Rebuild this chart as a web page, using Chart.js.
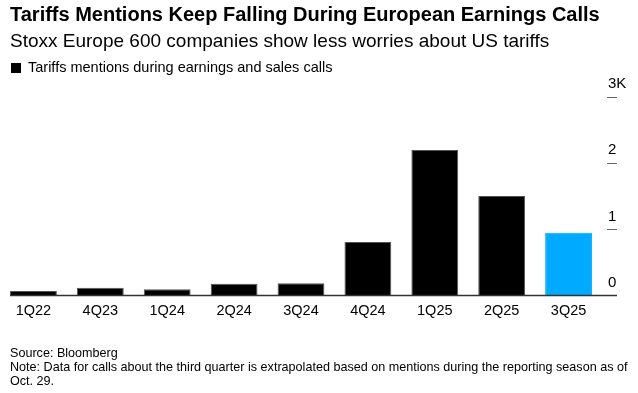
<!DOCTYPE html>
<html>
<head>
<meta charset="utf-8">
<script src="https://cdn.jsdelivr.net/npm/chart.js@4/dist/chart.umd.min.js"></script>
<style>
  html, body { margin: 0; padding: 0; background: #fff; }
  body { width: 638px; height: 393px; position: relative; overflow: hidden; font-family: "Liberation Sans", Arial, sans-serif; color: #000; }
  #c { position: absolute; left: 0; top: 0; }
  .t { position: absolute; left: 10px; white-space: nowrap; line-height: normal; z-index: 2; }
  #title { top: 3px; font-size: 20px; font-weight: bold; }
  #sub { top: 29.5px; font-size: 19px; }
  #leg { top: 59px; left: 28px; font-size: 14.5px; }
  #sq { position: absolute; left: 11px; top: 63px; width: 10px; height: 10px; background: #000; z-index: 2; }
  #foot { top: 345.5px; font-size: 12.6px; line-height: 14.3px; }
</style>
</head>
<body>
<canvas id="c" width="638" height="393"></canvas>
<div class="t" id="title">Tariffs Mentions Keep Falling During European Earnings Calls</div>
<div class="t" id="sub">Stoxx Europe 600 companies show less worries about US tariffs</div>
<div id="sq"></div>
<div class="t" id="leg">Tariffs mentions during earnings and sales calls</div>
<div class="t" id="foot">Source: Bloomberg<br>Note: Data for calls about the third quarter is extrapolated based on mentions during the reporting season as of<br>Oct. 29.</div>
<script>
const categories = ['1Q22', '4Q23', '1Q24', '2Q24', '3Q24', '4Q24', '1Q25', '2Q25', '3Q25'];
const mentions = [70, 120, 95, 180, 185, 810, 2200, 1505, 950];
const yTickValues = [0, 1000, 2000, 3000];
const yTickLabels = ['0', '1', '2', '3K'];
const highlightIndex = 8;

const barColors = categories.map((c, i) => i === highlightIndex ? '#00aaff' : '#000000');
const barBorders = categories.map((c, i) => i === highlightIndex ? '#00aaff' : '#555555');

const baselinePlugin = {
  id: 'baseline',
  afterDatasetsDraw(chart) {
    const ctx = chart.ctx;
    const y = chart.scales.y.getPixelForValue(0);
    const bar = chart.getDatasetMeta(0).data[0];
    const x0 = bar.x - bar.width / 2;
    const x1 = chart.chartArea.right + 15;
    ctx.save();
    ctx.strokeStyle = '#333';
    ctx.lineWidth = 1.5;
    ctx.beginPath();
    ctx.moveTo(x0, y);
    ctx.lineTo(x1, y);
    ctx.stroke();
    ctx.restore();
  }
};

new Chart(document.getElementById('c'), {
  type: 'bar',
  data: {
    labels: categories,
    datasets: [{
      data: mentions,
      backgroundColor: barColors,
      borderColor: barBorders,
      borderWidth: 1,
      borderSkipped: 'bottom',
      categoryPercentage: 1,
      barPercentage: 0.7
    }]
  },
  options: {
    responsive: false,
    animation: false,
    events: [],
    layout: { padding: { left: 0, right: 0, top: 97, bottom: 74 } },
    plugins: { legend: { display: false }, tooltip: { enabled: false } },
    scales: {
      x: {
        offset: true,
        grid: { display: false },
        border: { display: false },
        ticks: { color: '#000', font: { family: 'Liberation Sans', size: 14.5 }, padding: -1, maxRotation: 0 }
      },
      y: {
        position: 'right',
        min: 0,
        max: 3000,
        afterFit(scale) { scale.width = 36; },
        afterBuildTicks(scale) { scale.ticks = yTickValues.map(v => ({ value: v })); },
        border: { display: false },
        grid: {
          drawOnChartArea: false,
          drawTicks: true,
          tickLength: 15,
          tickColor: '#666',
          tickWidth: 1,
          tickBorderDash: [10, 5],
          tickBorderDashOffset: 10
        },
        ticks: {
          color: '#000',
          font: { family: 'Liberation Sans', size: 15 },
          padding: -9,
          labelOffset: -13,
          callback: (v) => yTickLabels[yTickValues.indexOf(v)]
        }
      }
    }
  },
  plugins: [baselinePlugin]
});
</script>
</body>
</html>
